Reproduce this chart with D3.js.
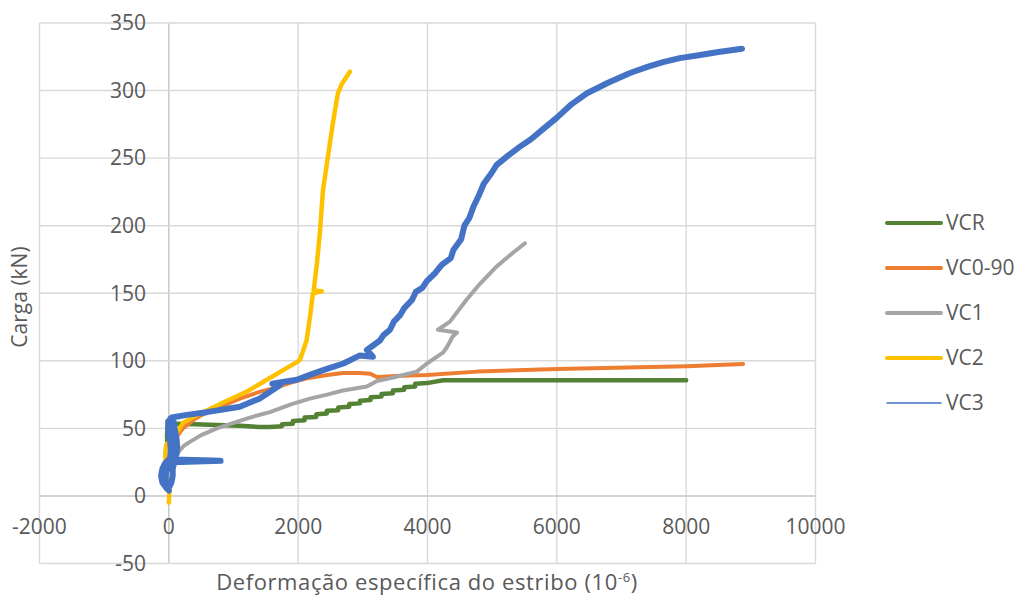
<!DOCTYPE html>
<html>
<head>
<meta charset="utf-8">
<script src="https://cdn.jsdelivr.net/npm/d3@7"></script>
<style>
  html, body { margin: 0; padding: 0; background: #fff; }
  svg { display: block; font-family: "Open Sans", "Noto Sans", sans-serif; }
</style>
</head>
<body>
<svg id="chart" width="1017" height="598"></svg>
<script>
// Stirrup strain (10^-6) versus applied load (kN) for each beam
const xTicks = [-2000, 0, 2000, 4000, 6000, 8000, 10000];
const yTicks = [-50, 0, 50, 100, 150, 200, 250, 300, 350];

const seriesNames = ["VCR", "VC0-90", "VC1", "VC2", "VC3"];

const vcr = [
  [-20, 38], [-28, 44], [-20, 50], [-10, 53], [100, 53.5], [400, 53], [742, 52.5],
  [1100, 52], [1400, 51], [1562, 51], [1750, 51.5], [1750, 53], [1918, 53.5],
  [1918, 55.5], [2100, 56], [2100, 58], [2280, 58.5], [2280, 60.5], [2444, 61],
  [2444, 63], [2620, 63.5], [2620, 65.5], [2790, 66], [2790, 68], [2955, 68.5],
  [2955, 70.5], [3120, 71], [3120, 73], [3290, 73.5], [3290, 75.5], [3465, 76],
  [3465, 78], [3640, 78.5], [3640, 80.5], [3810, 81], [3810, 83], [3991, 83.5],
  [4239, 85.6], [4500, 85.6], [8000, 85.6]
];

const vc090 = [
  [0, 37], [60, 40], [124, 44], [217, 50], [400, 57], [588, 62], [800, 66],
  [1098, 72], [1400, 77], [1640, 80], [1900, 84], [2135, 87], [2450, 89.5],
  [2692, 91], [2950, 91], [3110, 90.5], [3218, 88], [3600, 89], [3991, 89.5],
  [4765, 92], [6002, 94], [8013, 96], [8880, 97.7]
];

const vc1 = [
  [140, 32], [230, 37], [325, 40], [500, 45], [742, 50], [1000, 54], [1253, 58],
  [1562, 62], [1900, 68], [2181, 72], [2450, 75], [2692, 78], [3063, 81],
  [3218, 85], [3500, 88], [3836, 92], [3991, 98], [4239, 106], [4300, 110],
  [4390, 118], [4455, 121], [4161, 123], [4347, 129], [4600, 145], [4811, 157],
  [5074, 170], [5322, 180], [5507, 187]
];

const vc2 = [
  [0, -5], [10, 5], [-30, 15], [-50, 25], [-55, 32], [-40, 38], [60, 42],
  [140, 48], [220, 54], [400, 59], [835, 69], [1200, 77], [1516, 86], [1800, 94],
  [1980, 99], [2030, 101], [2130, 115], [2190, 135], [2228, 150], [2367, 151.5],
  [2240, 152], [2290, 172], [2336, 195], [2383, 226], [2460, 251], [2537, 276],
  [2614, 298], [2676, 305], [2800, 314]
];

const vc3 = [
  [0, 4], [-40, 6], [-100, 10], [-120, 15], [-100, 20], [-60, 24], [20, 28],
  [30, 34], [20, 40], [0, 45], [-10, 50], [-10, 55], [50, 52], [60, 44],
  [60, 36], [40, 30], [0, 24], [-40, 18], [-50, 12], [10, 7], [40, 10],
  [60, 15], [60, 20], [80, 24], [60, 25], [800, 26], [90, 27], [120, 31],
  [130, 36], [120, 42], [100, 47], [80, 52], [70, 56], [20, 57], [46, 58],
  [278, 60], [588, 62], [1098, 66], [1400, 72], [1717, 82], [1600, 83],
  [1980, 86], [2200, 90], [2444, 94], [2700, 98], [2955, 104], [3156, 103],
  [3063, 108], [3264, 115], [3320, 119], [3420, 123], [3480, 129], [3580, 134],
  [3640, 139], [3760, 145], [3820, 151], [3920, 154], [3990, 159], [4120, 165],
  [4220, 171], [4360, 176], [4400, 182], [4520, 190], [4570, 200], [4650, 206],
  [4710, 214], [4790, 222], [4870, 231], [4990, 239], [5070, 245], [5250, 252],
  [5430, 258.5], [5600, 264], [5800, 272], [6002, 280], [6230, 290], [6466, 298],
  [6800, 306], [7132, 313], [7400, 317.5], [7642, 321], [7900, 324], [8168, 326],
  [8500, 328.5], [8864, 331]
];

const seriesData = [vcr, vc090, vc1, vc2, vc3];
const seriesColors = ["#548235", "#ED7D31", "#A5A5A5", "#FFC000", "#4472C4"];
const seriesWidths = [4.5, 4, 4, 4.5, 6];
const legendWidths = [4, 4, 4, 4, 1.6];

const svg = d3.select("#chart");

const x = d3.scaleLinear().domain([-2000, 10000]).range([39.5, 815.5]);
const y = d3.scaleLinear().domain([-50, 350]).range([563.5, 23]);

const grid = svg.append("g");

// vertical gridlines
grid.selectAll("line.vx").data(xTicks).join("line")
  .attr("x1", d => x(d)).attr("x2", d => x(d))
  .attr("y1", y(350)).attr("y2", y(-50))
  .attr("stroke", d => d === 0 ? "#c4c4c4" : "#d9d9d9")
  .attr("stroke-width", 1.4);

// horizontal gridlines
grid.selectAll("line.hy").data(yTicks).join("line")
  .attr("x1", x(-2000)).attr("x2", x(10000))
  .attr("y1", d => y(d)).attr("y2", d => y(d))
  .attr("stroke", d => d === 0 ? "#c4c4c4" : "#d9d9d9")
  .attr("stroke-width", 1.4);

// tick labels
const labelColor = "#595959";
svg.append("g").selectAll("text").data(yTicks).join("text")
  .attr("x", 146).attr("y", d => y(d))
  .attr("dy", "0.35em")
  .attr("text-anchor", "end")
  .attr("font-size", 21).attr("fill", labelColor)
  .text(d => d);

svg.append("g").selectAll("text").data(xTicks).join("text")
  .attr("x", d => x(d)).attr("y", 527)
  .attr("dy", "0.35em")
  .attr("text-anchor", "middle")
  .attr("font-size", 21).attr("fill", labelColor)
  .text(d => d);

// series lines
const line = d3.line().x(d => x(d[0])).y(d => y(d[1]));
svg.append("g").selectAll("path").data(seriesData).join("path")
  .attr("d", line)
  .attr("fill", "none")
  .attr("stroke", (d, i) => seriesColors[i])
  .attr("stroke-width", (d, i) => seriesWidths[i])
  .attr("stroke-linejoin", "round")
  .attr("stroke-linecap", "round");

// axis titles
const xt = svg.append("text")
  .attr("x", 427).attr("y", 590)
  .attr("text-anchor", "middle")
  .attr("font-size", 22).attr("letter-spacing", 0.6).attr("fill", labelColor);
xt.append("tspan").text("Deformação específica do estribo (10");
xt.append("tspan").attr("dy", -8).attr("font-size", 13).text("-6");
xt.append("tspan").attr("dy", 8).text(")");

svg.append("text")
  .attr("transform", "translate(27,297) rotate(-90)")
  .attr("text-anchor", "middle")
  .attr("font-size", 21).attr("fill", labelColor)
  .text("Carga (kN)");

// legend
const legend = svg.append("g").selectAll("g").data(seriesNames).join("g")
  .attr("transform", (d, i) => `translate(887,${223 + i * 45})`);
legend.append("line")
  .attr("x1", 0).attr("x2", 54).attr("y1", 0).attr("y2", 0)
  .attr("stroke", (d, i) => seriesColors[i])
  .attr("stroke-width", (d, i) => legendWidths[i])
  .attr("stroke-linecap", "round");
legend.append("text")
  .attr("x", 59).attr("y", 0).attr("dy", "0.35em")
  .attr("font-size", 21).attr("fill", labelColor)
  .text(d => d);
</script>
</body>
</html>
